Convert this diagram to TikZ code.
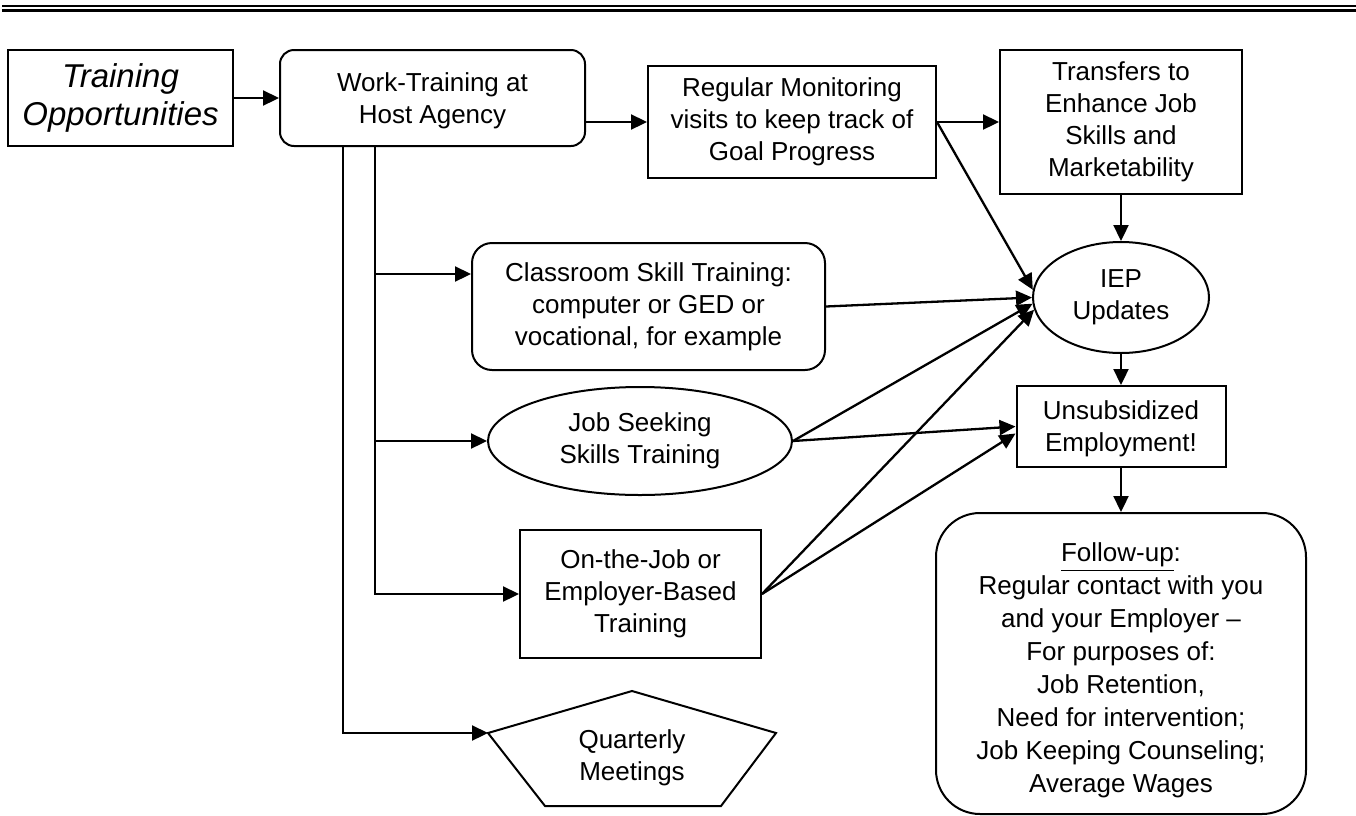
\documentclass[tikz,border=0pt]{standalone}
\usepackage{fontspec}
\setmainfont{Liberation Sans}
\usetikzlibrary{shapes.geometric,arrows.meta,calc}
\begin{document}
\begin{tikzpicture}[x=0.5pt,y=-0.5pt,
  txt/.style={inner sep=0pt,align=center,font=\fontsize{13}{16}\selectfont},
  box/.style={txt,draw,line width=1pt},
  rbox/.style={box,rounded corners=#1},
  oval/.style={box,ellipse},
  link/.style={line width=1.15pt},
  arr/.style={link,-{Triangle[length=8pt,width=7.5pt]}}]

\useasboundingbox (0,0) rectangle (1356,815);

% double rule across the top
\draw[line width=1.15pt] (2,6.2) -- (1356,6.2);
\draw[line width=1.15pt] (2,10.5) -- (1356,10.5);

% boxes
\node[box,minimum width=112.5pt,minimum height=48pt,
      font=\fontsize{16.5}{19}\selectfont\itshape] (tr) at (120.5,98) {Training\\Opportunities};
\node[rbox=7pt,minimum width=152.5pt,minimum height=48pt] (wt) at (432.5,98) {\rule{0pt}{12pt}Work-Training at\\Host Agency};
\node[box,minimum width=144pt,minimum height=56pt] (mon) at (792,122) {Regular Monitoring\\visits to keep track of\\Goal Progress};
\node[box,minimum width=121pt,minimum height=72pt] (trn) at (1121,122) {Transfers to\\Enhance Job\\Skills and\\Marketability};
\node[oval,minimum width=88pt,minimum height=55.5pt] (iep) at (1121,297.5) {IEP\\Updates};
\node[rbox=10pt,minimum width=176.5pt,minimum height=63.5pt] (cls) at (648.5,306.5) {Classroom Skill Training:\\computer or GED or\\vocational, for example};
\node[oval,minimum width=152pt,minimum height=54pt] (job) at (640,441) {Job Seeking\\Skills Training};
\node[box,minimum width=104.5pt,minimum height=40.5pt] (uns) at (1121,426.5) {\rule{0pt}{12pt}Unsubsidized\\Employment!};
\node[box,minimum width=120.5pt,minimum height=64pt] (otj) at (640.5,594) {On-the-Job or\\Employer-Based\\Training};
\node[rbox=22pt,minimum width=185pt,minimum height=150.5pt,
      font=\fontsize{13}{16.5}\selectfont] (fol) at (1121,663.5)
  {\rule{0pt}{16.5pt}\underline{Follow-up}:\\Regular contact with you\\and your Employer –\\For purposes of:\\Job Retention,\\Need for intervention;\\Job Keeping Counseling;\\Average Wages};

% pentagon for the quarterly meetings
\coordinate (qTop) at (632,691);
\coordinate (qL) at (488,733);
\coordinate (qR) at (776,733);
\coordinate (qBR) at (721,806);
\coordinate (qBL) at (545,806);
\draw[line width=1pt] (qTop) -- (qR) -- (qBR) -- (qBL) -- (qL) -- cycle;
\node[txt] (qm) at (632,758) {Quarterly\\Meetings};

% connectors
\draw[arr] (tr) -- (wt);
\draw[arr] (wt.east |- mon.west) -- (mon.west);
\draw[arr] (mon) -- (trn);
\draw[arr] (mon.east) -- (iep.175);
\draw[arr] (trn) -- (iep);
\draw[arr] (iep) -- (uns);
\draw[arr] (uns) -- (fol);

\coordinate (trunkA) at ($(wt.south west)+(64,0)$);
\coordinate (trunkB) at ($(wt.south west)+(96,0)$);
\coordinate (clsIn) at ($(cls.west)+(0,-32.5)$);
\draw[arr] (trunkA) |- (qL);
\draw[arr] (trunkB) |- (otj.west);
\draw[arr] (trunkB |- clsIn) -- (clsIn);
\draw[arr] (trunkB |- job.west) -- (job.west);

\draw[arr] (cls.east) -- (iep.west);
\draw[arr] (job.east) -- (iep.184);
\draw[arr] (job.east) -- (uns.west);
\draw[arr] (otj.east) -- (iep.188);
\draw[arr] (otj.east) -- ($(uns.west)+(0,7)$);
\end{tikzpicture}
\end{document}
